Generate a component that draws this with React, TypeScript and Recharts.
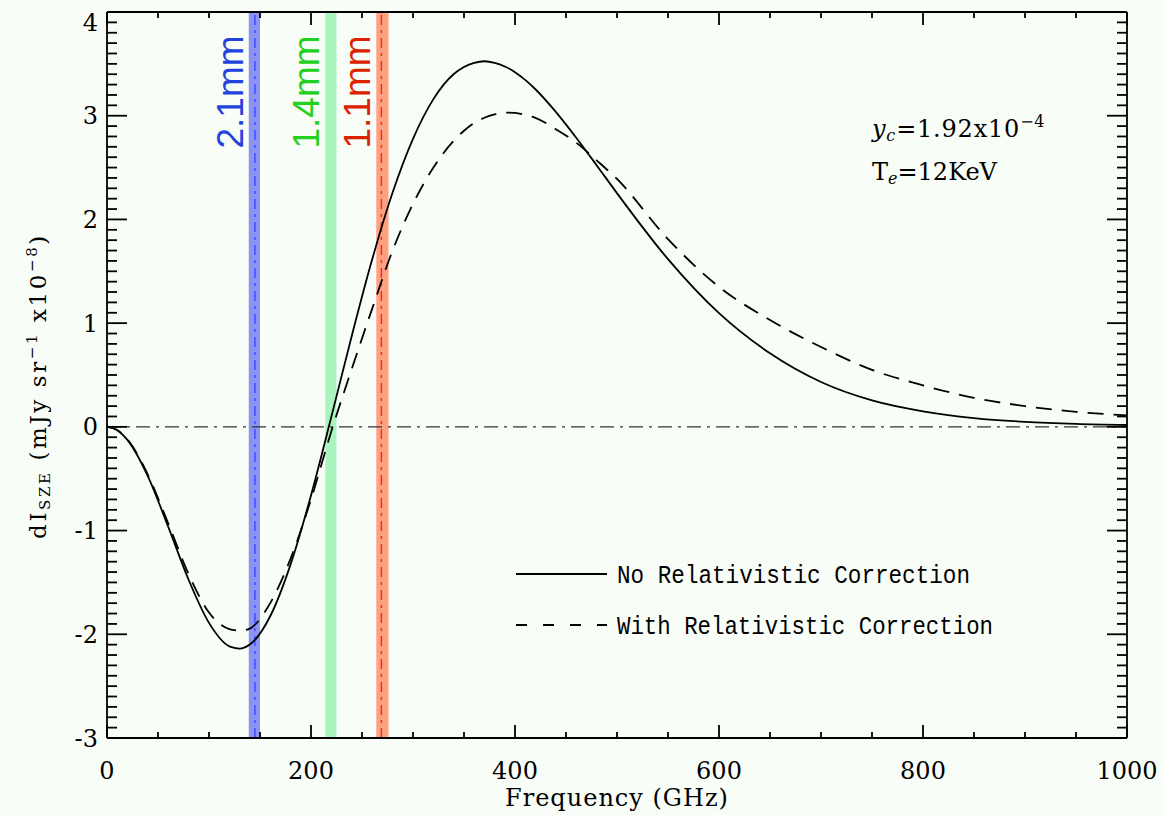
import React from "react";
import { LineChart, Line, XAxis, YAxis, ReferenceArea, ReferenceLine } from "recharts";

// frequency grid (GHz) shared by both curves
const freq = [0, 10, 20, 40, 60, 80, 100, 120, 125, 130, 135, 140, 160, 180, 200, 220, 240, 260, 280, 300, 320, 340, 350, 360, 370, 380, 390, 400, 410, 420, 440, 460, 480, 500, 550, 600, 650, 700, 750, 800, 850, 900, 950, 1000];

// dI_SZE (mJy sr^-1 x10^-8)
const noRelCorr = [0, -0.032, -0.126, -0.475, -0.963, -1.474, -1.89, -2.117, -2.132, -2.138, -2.126, -2.099, -1.826, -1.326, -0.661, 0.099, 0.879, 1.615, 2.259, 2.777, 3.16, 3.402, 3.47, 3.51, 3.525, 3.51, 3.475, 3.42, 3.345, 3.255, 3.037, 2.788, 2.523, 2.253, 1.617, 1.096, 0.709, 0.432, 0.255, 0.15, 0.085, 0.048, 0.028, 0.018];
const withRelCorr = [0, -0.03, -0.12, -0.46, -0.93, -1.42, -1.79, -1.95, -1.96, -1.965, -1.96, -1.945, -1.7, -1.27, -0.7, -0.04, 0.56, 1.14, 1.7, 2.15, 2.5, 2.76, 2.855, 2.93, 2.98, 3.012, 3.03, 3.027, 3.008, 2.98, 2.87, 2.74, 2.57, 2.39, 1.81, 1.35, 1.03, 0.77, 0.55, 0.4, 0.28, 0.2, 0.145, 0.11];

// observing bands (GHz)
const bandNames = ["2.1mm", "1.4mm", "1.1mm"];
const bandLow = [139, 214, 264];
const bandHigh = [150, 225, 276];
const bandCenter = [145, null, 269];

const xTicks = [0, 50, 100, 150, 200, 250, 300, 350, 400, 450, 500, 550, 600, 650, 700, 750, 800, 850, 900, 950, 1000];
const xMajorTicks = [0, 200, 400, 600, 800, 1000];
const yMajorTicks = [-3, -2, -1, 0, 1, 2, 3, 4];
const yTicks = Array.from({ length: 71 }, (_, i) => (i - 30) / 10);

const W = 1164;
const H = 815;
const M = { top: 11, right: 36, bottom: 0, left: 0 };
const TOP_AXIS_H = 1;
const BOTTOM_AXIS_H = 77;
const LEFT_AXIS_W = 107;
const RIGHT_AXIS_W = 1;
// plot box, same numbers the chart uses for its offsets
const plotTop = M.top + TOP_AXIS_H;
const plotBottom = H - M.bottom - BOTTOM_AXIS_H;
const plotLeft = M.left + LEFT_AXIS_W;
const plotRight = W - M.right - RIGHT_AXIS_W;
const yToPx = (v: number) => plotBottom - ((v + 3) / 7) * (plotBottom - plotTop);

const BG = "#f9fdf8";
const SERIF = "'DejaVu Serif', serif";
const bandFill = ["#8c94f2", "#aaf5be", "#ffa082"];
const bandLine = ["#3c46ff", null, "#ff2800"];
const bandText = ["#2244dc", "#22d022", "#dc2200"];

const rows = freq.map((f, i) => ({ freq: f, noRel: noRelCorr[i], withRel: withRelCorr[i] }));

function BottomTick({ x, y, payload }: any) {
  const major = xMajorTicks.includes(payload.value);
  return (
    <g>
      <line x1={x} x2={x} y1={y} y2={y - (major ? 13 : 6)} stroke="#000" strokeWidth={1.8} />
      {major && (
        <text x={x} y={y + 41} textAnchor="middle" fontFamily={SERIF} fontSize={24} fill="#000">
          {payload.value}
        </text>
      )}
    </g>
  );
}

function TopTick({ x, y, payload }: any) {
  const major = xMajorTicks.includes(payload.value);
  return <line x1={x} x2={x} y1={y} y2={y + (major ? 13 : 6)} stroke="#000" strokeWidth={1.8} />;
}

function LeftLabel({ x, y, payload }: any) {
  const v = Number(payload.value);
  return (
    <text x={Number(x) - 9} y={Number(y) + 8.5 + (v === 4 ? 10 : 0)} textAnchor="end" fontFamily={SERIF} fontSize={24} fill="#000">
      {v}
    </text>
  );
}

function BandLabel({ viewBox, caption, tone }: any) {
  if (!viewBox) return null;
  return (
    <text
      transform={`translate(${viewBox.x - 6},${viewBox.y + 80}) rotate(-90)`}
      textAnchor="middle"
      fill={tone}
      fontFamily="'Liberation Sans', Arial, sans-serif"
      fontSize={37}
    >
      {caption}
    </text>
  );
}

export default function App() {
  return (
    <div style={{ position: "absolute", left: 0, top: 0, width: W, height: H, background: BG }}>
      <LineChart width={W} height={H} data={rows} margin={M}>
        {bandNames.map((name, i) => (
          <ReferenceArea
            key={name}
            x1={bandLow[i]}
            x2={bandHigh[i]}
            fill={bandFill[i]}
            fillOpacity={1}
            stroke="none"
            label={<BandLabel caption={name} tone={bandText[i]} />}
          />
        ))}
        {bandCenter.map((c, i) =>
          c == null ? null : (
            <ReferenceLine key={"c" + i} x={c} stroke={bandLine[i] as string} strokeWidth={1.4} strokeDasharray="10 5 3 5" />
          )
        )}
        <ReferenceLine y={0} stroke="#333" strokeWidth={1.2} strokeDasharray="14 6 3 6" />
        <Line type="monotone" dataKey="noRel" stroke="#000" strokeWidth={1.8} dot={false} isAnimationActive={false} />
        <Line type="monotone" dataKey="withRel" stroke="#000" strokeWidth={1.8} strokeDasharray="16 10" dot={false} isAnimationActive={false} />
        <XAxis
          dataKey="freq"
          type="number"
          domain={[0, 1000]}
          ticks={xTicks}
          interval={0}
          height={BOTTOM_AXIS_H}
          tickSize={0}
          tickMargin={0}
          tick={<BottomTick />}
          axisLine={{ stroke: "#000", strokeWidth: 1.8 }}
        />
        <XAxis
          xAxisId="top"
          orientation="top"
          dataKey="freq"
          type="number"
          domain={[0, 1000]}
          ticks={xTicks}
          interval={0}
          height={TOP_AXIS_H}
          tickSize={0}
          tickMargin={0}
          tick={<TopTick />}
          axisLine={{ stroke: "#000", strokeWidth: 1.8 }}
        />
        <YAxis
          type="number"
          domain={[-3, 4]}
          ticks={yMajorTicks}
          interval={0}
          width={LEFT_AXIS_W}
          tickSize={0}
          tickMargin={0}
          tickLine={false}
          tick={<LeftLabel />}
          axisLine={{ stroke: "#000", strokeWidth: 1.8 }}
        />
        <YAxis
          yAxisId="right"
          orientation="right"
          type="number"
          domain={[-3, 4]}
          ticks={yMajorTicks}
          interval={0}
          width={RIGHT_AXIS_W}
          tickSize={0}
          tickLine={false}
          tick={false}
          axisLine={{ stroke: "#000", strokeWidth: 1.8 }}
        />
      </LineChart>
      <svg width={W} height={H} style={{ position: "absolute", left: 0, top: 0, pointerEvents: "none" }}>
        {/* inward y ticks, both frame sides */}
        {yTicks.map((v) => {
          const len = Number.isInteger(v) ? 20 : 10;
          const py = yToPx(v);
          return (
            <g key={"yt" + v} stroke="#000" strokeWidth={1.8}>
              <line x1={plotLeft} x2={plotLeft + len} y1={py} y2={py} />
              <line x1={plotRight - len} x2={plotRight} y1={py} y2={py} />
            </g>
          );
        })}
        <text x={617} y={806} textAnchor="middle" fontFamily={SERIF} fontSize={24} letterSpacing={1}>
          Frequency (GHz)
        </text>
        <text transform="translate(46,386) rotate(-90)" textAnchor="middle" fontFamily={SERIF} fontSize={23} letterSpacing={2.6}>
          dI<tspan fontSize={15} dy={4}>SZE</tspan>
          <tspan dy={-4}> (mJy sr</tspan>
          <tspan fontSize={15} dy={-9}>−1</tspan>
          <tspan dy={9}> x10</tspan>
          <tspan fontSize={15} dy={-9}>−8</tspan>
          <tspan dy={9}>)</tspan>
        </text>
        <text x={872} y={137} fontFamily={SERIF} fontSize={24} letterSpacing={0.8}>
          <tspan fontStyle="italic">y</tspan>
          <tspan fontStyle="italic" fontSize={16} dy={4}>c</tspan>
          <tspan dy={-4}>=1.92x10</tspan>
          <tspan fontSize={16} dy={-10}>−4</tspan>
        </text>
        <text x={872} y={180} fontFamily={SERIF} fontSize={24}>
          T<tspan fontStyle="italic" fontSize={16} dy={4}>e</tspan>
          <tspan dy={-4}>=12KeV</tspan>
        </text>
        <line x1={516} x2={607} y1={574} y2={574} stroke="#000" strokeWidth={1.8} />
        <text x={617} y={583} fontFamily="'Liberation Mono', monospace" fontSize={26} textLength={353} lengthAdjust="spacingAndGlyphs">
          No Relativistic Correction
        </text>
        <line x1={516} x2={607} y1={625} y2={625} stroke="#000" strokeWidth={1.8} strokeDasharray="11 16" />
        <text x={617} y={634} fontFamily="'Liberation Mono', monospace" fontSize={26} textLength={376} lengthAdjust="spacingAndGlyphs">
          With Relativistic Correction
        </text>
      </svg>
    </div>
  );
}
